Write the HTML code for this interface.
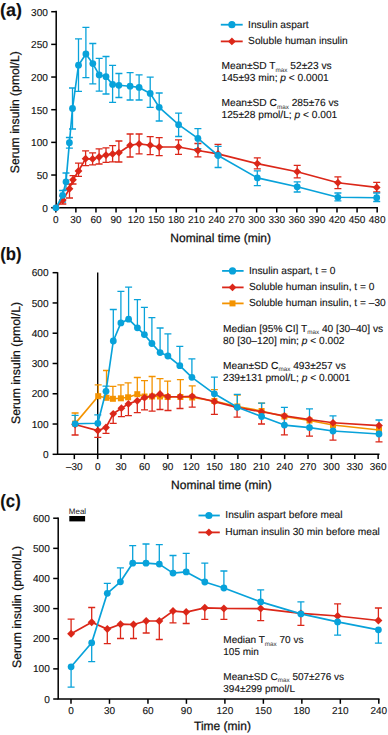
<!DOCTYPE html>
<html><head><meta charset="utf-8"><style>
html,body{margin:0;padding:0;background:#fff;}
body{width:388px;height:735px;overflow:hidden;}
svg{display:block;font-family:"Liberation Sans", sans-serif;}
text.big{stroke-width:0.25px !important;}
text{fill:#111;stroke:#111;stroke-width:0.12px;text-rendering:geometricPrecision;}
</style></head><body>
<svg width="388" height="735" viewBox="0 0 388 735">
<text x="0" y="16.3" font-size="18" text-anchor="start" font-weight="bold" >(a)</text>
<text transform="translate(18.5 112.2) rotate(-90)" class="big" font-size="12.2" text-anchor="middle">Serum insulin (pmol/L)</text>
<path d="M56.2 11.6V207.7H377.2" stroke="#000" stroke-width="1.5" fill="none" stroke-linecap="square"/>
<path d="M51.2 207.7H56.2" stroke="#000" stroke-width="1.5"/>
<text x="47.9" y="211.8" font-size="10.1" text-anchor="end" font-weight="normal" >0</text>
<path d="M51.2 175.035H56.2" stroke="#000" stroke-width="1.5"/>
<text x="47.9" y="179.135" font-size="10.1" text-anchor="end" font-weight="normal" >50</text>
<path d="M51.2 142.37H56.2" stroke="#000" stroke-width="1.5"/>
<text x="47.9" y="146.47" font-size="10.1" text-anchor="end" font-weight="normal" >100</text>
<path d="M51.2 109.7H56.2" stroke="#000" stroke-width="1.5"/>
<text x="47.9" y="113.8" font-size="10.1" text-anchor="end" font-weight="normal" >150</text>
<path d="M51.2 77.04H56.2" stroke="#000" stroke-width="1.5"/>
<text x="47.9" y="81.14" font-size="10.1" text-anchor="end" font-weight="normal" >200</text>
<path d="M51.2 44.375H56.2" stroke="#000" stroke-width="1.5"/>
<text x="47.9" y="48.475" font-size="10.1" text-anchor="end" font-weight="normal" >250</text>
<path d="M51.2 11.71H56.2" stroke="#000" stroke-width="1.5"/>
<text x="47.9" y="15.81" font-size="10.1" text-anchor="end" font-weight="normal" >300</text>
<path d="M55.8 207.7V212.5" stroke="#000" stroke-width="1.5"/>
<text x="55.8" y="223.2" font-size="10" text-anchor="middle" font-weight="normal" >0</text>
<path d="M75.88 207.7V212.5" stroke="#000" stroke-width="1.5"/>
<text x="75.88" y="223.2" font-size="10" text-anchor="middle" font-weight="normal" >30</text>
<path d="M95.97 207.7V212.5" stroke="#000" stroke-width="1.5"/>
<text x="95.97" y="223.2" font-size="10" text-anchor="middle" font-weight="normal" >60</text>
<path d="M116.05 207.7V212.5" stroke="#000" stroke-width="1.5"/>
<text x="116.05" y="223.2" font-size="10" text-anchor="middle" font-weight="normal" >90</text>
<path d="M136.14 207.7V212.5" stroke="#000" stroke-width="1.5"/>
<text x="136.14" y="223.2" font-size="10" text-anchor="middle" font-weight="normal" >120</text>
<path d="M156.225 207.7V212.5" stroke="#000" stroke-width="1.5"/>
<text x="156.225" y="223.2" font-size="10" text-anchor="middle" font-weight="normal" >150</text>
<path d="M176.31 207.7V212.5" stroke="#000" stroke-width="1.5"/>
<text x="176.31" y="223.2" font-size="10" text-anchor="middle" font-weight="normal" >180</text>
<path d="M196.39 207.7V212.5" stroke="#000" stroke-width="1.5"/>
<text x="196.39" y="223.2" font-size="10" text-anchor="middle" font-weight="normal" >210</text>
<path d="M216.48 207.7V212.5" stroke="#000" stroke-width="1.5"/>
<text x="216.48" y="223.2" font-size="10" text-anchor="middle" font-weight="normal" >240</text>
<path d="M236.565 207.7V212.5" stroke="#000" stroke-width="1.5"/>
<text x="236.565" y="223.2" font-size="10" text-anchor="middle" font-weight="normal" >270</text>
<path d="M256.65 207.7V212.5" stroke="#000" stroke-width="1.5"/>
<text x="256.65" y="223.2" font-size="10" text-anchor="middle" font-weight="normal" >300</text>
<path d="M276.735 207.7V212.5" stroke="#000" stroke-width="1.5"/>
<text x="276.735" y="223.2" font-size="10" text-anchor="middle" font-weight="normal" >330</text>
<path d="M296.82 207.7V212.5" stroke="#000" stroke-width="1.5"/>
<text x="296.82" y="223.2" font-size="10" text-anchor="middle" font-weight="normal" >360</text>
<path d="M316.91 207.7V212.5" stroke="#000" stroke-width="1.5"/>
<text x="316.91" y="223.2" font-size="10" text-anchor="middle" font-weight="normal" >390</text>
<path d="M336.99 207.7V212.5" stroke="#000" stroke-width="1.5"/>
<text x="336.99" y="223.2" font-size="10" text-anchor="middle" font-weight="normal" >420</text>
<path d="M357.075 207.7V212.5" stroke="#000" stroke-width="1.5"/>
<text x="357.075" y="223.2" font-size="10" text-anchor="middle" font-weight="normal" >450</text>
<path d="M377.16 207.7V212.5" stroke="#000" stroke-width="1.5"/>
<text x="377.16" y="223.2" font-size="10" text-anchor="middle" font-weight="normal" >480</text>
<text x="170.3" y="242.2" font-size="12" text-anchor="start" font-weight="normal" class="big">Nominal time (min)</text>
<path d="M62.8 196V204M59.3 196H66.3M59.3 204H66.3" stroke="#db2719" stroke-width="1.3" fill="none"/>
<path d="M69.5 184.1V198M66.0 184.1H73.0M66.0 198H73.0" stroke="#db2719" stroke-width="1.3" fill="none"/>
<path d="M73 175.6V184M69.5 175.6H76.5M69.5 184H76.5" stroke="#db2719" stroke-width="1.3" fill="none"/>
<path d="M78.5 163.2V176.4M75.0 163.2H82.0M75.0 176.4H82.0" stroke="#db2719" stroke-width="1.3" fill="none"/>
<path d="M85.6 150.9V165.6M82.1 150.9H89.1M82.1 165.6H89.1" stroke="#db2719" stroke-width="1.3" fill="none"/>
<path d="M92.6 152.9V164.8M89.1 152.9H96.1M89.1 164.8H96.1" stroke="#db2719" stroke-width="1.3" fill="none"/>
<path d="M99.1 148.9V164M95.6 148.9H102.6M95.6 164H102.6" stroke="#db2719" stroke-width="1.3" fill="none"/>
<path d="M106 147.8V162.3M102.5 147.8H109.5M102.5 162.3H109.5" stroke="#db2719" stroke-width="1.3" fill="none"/>
<path d="M112.6 145.6V161.8M109.1 145.6H116.1M109.1 161.8H116.1" stroke="#db2719" stroke-width="1.3" fill="none"/>
<path d="M118.9 141V162M115.4 141H122.4M115.4 162H122.4" stroke="#db2719" stroke-width="1.3" fill="none"/>
<path d="M130.1 134V157M126.6 134H133.6M126.6 157H133.6" stroke="#db2719" stroke-width="1.3" fill="none"/>
<path d="M139.1 134V153.8M135.6 134H142.6M135.6 153.8H142.6" stroke="#db2719" stroke-width="1.3" fill="none"/>
<path d="M150.2 136.7V154.7M146.7 136.7H153.7M146.7 154.7H153.7" stroke="#db2719" stroke-width="1.3" fill="none"/>
<path d="M159.2 137.6V155.6M155.7 137.6H162.7M155.7 155.6H162.7" stroke="#db2719" stroke-width="1.3" fill="none"/>
<path d="M178.5 139.8V154.3M175.0 139.8H182.0M175.0 154.3H182.0" stroke="#db2719" stroke-width="1.3" fill="none"/>
<path d="M197.9 143.5V156.9M194.4 143.5H201.4M194.4 156.9H201.4" stroke="#db2719" stroke-width="1.3" fill="none"/>
<path d="M218.0 144.3V156M214.5 144.3H221.5M214.5 156H221.5" stroke="#db2719" stroke-width="1.3" fill="none"/>
<path d="M257.3 157.8V168.8M253.8 157.8H260.8M253.8 168.8H260.8" stroke="#db2719" stroke-width="1.3" fill="none"/>
<path d="M297.2 165.4V177.8M293.7 165.4H300.7M293.7 177.8H300.7" stroke="#db2719" stroke-width="1.3" fill="none"/>
<path d="M337.9 176.9V188.7M334.4 176.9H341.4M334.4 188.7H341.4" stroke="#db2719" stroke-width="1.3" fill="none"/>
<path d="M376.7 182.4V192M373.2 182.4H380.2M373.2 192H380.2" stroke="#db2719" stroke-width="1.3" fill="none"/>
<path d="M62.6 190.5V202M59.1 190.5H66.1M59.1 202H66.1" stroke="#08a2da" stroke-width="1.3" fill="none"/>
<path d="M66 173V190M62.5 173H69.5M62.5 190H69.5" stroke="#08a2da" stroke-width="1.3" fill="none"/>
<path d="M69.4 137.5V148.1M65.9 137.5H72.9M65.9 148.1H72.9" stroke="#08a2da" stroke-width="1.3" fill="none"/>
<path d="M72.5 88V129M69.0 88H76.0M69.0 129H76.0" stroke="#08a2da" stroke-width="1.3" fill="none"/>
<path d="M78.5 38.9V91.4M75.0 38.9H82.0M75.0 91.4H82.0" stroke="#08a2da" stroke-width="1.3" fill="none"/>
<path d="M85.9 27.4V77.7M82.4 27.4H89.4M82.4 77.7H89.4" stroke="#08a2da" stroke-width="1.3" fill="none"/>
<path d="M92.8 43.5V83.9M89.3 43.5H96.3M89.3 83.9H96.3" stroke="#08a2da" stroke-width="1.3" fill="none"/>
<path d="M99.2 58.3V91.1M95.7 58.3H102.7M95.7 91.1H102.7" stroke="#08a2da" stroke-width="1.3" fill="none"/>
<path d="M106 56.5V94M102.5 56.5H109.5M102.5 94H109.5" stroke="#08a2da" stroke-width="1.3" fill="none"/>
<path d="M112.6 65.4V102.4M109.1 65.4H116.1M109.1 102.4H116.1" stroke="#08a2da" stroke-width="1.3" fill="none"/>
<path d="M118.9 73.5V97.5M115.4 73.5H122.4M115.4 97.5H122.4" stroke="#08a2da" stroke-width="1.3" fill="none"/>
<path d="M130.1 72.6V100M126.6 72.6H133.6M126.6 100H133.6" stroke="#08a2da" stroke-width="1.3" fill="none"/>
<path d="M139.1 74.8V100M135.6 74.8H142.6M135.6 100H142.6" stroke="#08a2da" stroke-width="1.3" fill="none"/>
<path d="M150.2 77.1V107.3M146.7 77.1H153.7M146.7 107.3H153.7" stroke="#08a2da" stroke-width="1.3" fill="none"/>
<path d="M159.2 93V121M155.7 93H162.7M155.7 121H162.7" stroke="#08a2da" stroke-width="1.3" fill="none"/>
<path d="M178.6 113.1V136.5M175.1 113.1H182.1M175.1 136.5H182.1" stroke="#08a2da" stroke-width="1.3" fill="none"/>
<path d="M197.9 128.6V148.7M194.4 128.6H201.4M194.4 148.7H201.4" stroke="#08a2da" stroke-width="1.3" fill="none"/>
<path d="M218.1 146.3V167.5M214.6 146.3H221.6M214.6 167.5H221.6" stroke="#08a2da" stroke-width="1.3" fill="none"/>
<path d="M257.3 170.8V185.7M253.8 170.8H260.8M253.8 185.7H260.8" stroke="#08a2da" stroke-width="1.3" fill="none"/>
<path d="M297.2 181.8V192M293.7 181.8H300.7M293.7 192H300.7" stroke="#08a2da" stroke-width="1.3" fill="none"/>
<path d="M337.9 193V200.8M334.4 193H341.4M334.4 200.8H341.4" stroke="#08a2da" stroke-width="1.3" fill="none"/>
<path d="M376.7 193V201.5M373.2 193H380.2M373.2 201.5H380.2" stroke="#08a2da" stroke-width="1.3" fill="none"/>
<polyline points="56,207.8 62.8,200 69.5,188.8 73,179.8 78.5,171 85.6,158.7 92.6,158.9 99.1,157 106,155.1 112.6,153.9 118.9,152.7 130.1,145.3 139.1,143.9 150.2,145.2 159.2,147 178.5,147 197.9,150.5 218.0,153.9 257.3,163.6 297.2,171.7 337.9,182.7 376.7,187.4" stroke="#db2719" stroke-width="1.65" fill="none" stroke-linejoin="round"/>
<path d="M56 203.9L59.9 207.8L56 211.7L52.1 207.8Z" fill="#db2719"/>
<path d="M62.8 196.1L66.7 200L62.8 203.9L58.9 200Z" fill="#db2719"/>
<path d="M69.5 184.9L73.4 188.8L69.5 192.7L65.6 188.8Z" fill="#db2719"/>
<path d="M73 175.9L76.9 179.8L73 183.7L69.1 179.8Z" fill="#db2719"/>
<path d="M78.5 167.1L82.4 171L78.5 174.9L74.6 171Z" fill="#db2719"/>
<path d="M85.6 154.8L89.5 158.7L85.6 162.6L81.7 158.7Z" fill="#db2719"/>
<path d="M92.6 155.0L96.5 158.9L92.6 162.8L88.7 158.9Z" fill="#db2719"/>
<path d="M99.1 153.1L103.0 157L99.1 160.9L95.2 157Z" fill="#db2719"/>
<path d="M106 151.2L109.9 155.1L106 159.0L102.1 155.1Z" fill="#db2719"/>
<path d="M112.6 150.0L116.5 153.9L112.6 157.8L108.7 153.9Z" fill="#db2719"/>
<path d="M118.9 148.8L122.8 152.7L118.9 156.6L115.0 152.7Z" fill="#db2719"/>
<path d="M130.1 141.4L134.0 145.3L130.1 149.2L126.2 145.3Z" fill="#db2719"/>
<path d="M139.1 140.0L143.0 143.9L139.1 147.8L135.2 143.9Z" fill="#db2719"/>
<path d="M150.2 141.3L154.1 145.2L150.2 149.1L146.3 145.2Z" fill="#db2719"/>
<path d="M159.2 143.1L163.1 147L159.2 150.9L155.3 147Z" fill="#db2719"/>
<path d="M178.5 143.1L182.4 147L178.5 150.9L174.6 147Z" fill="#db2719"/>
<path d="M197.9 146.6L201.8 150.5L197.9 154.4L194.0 150.5Z" fill="#db2719"/>
<path d="M218.0 150.0L221.9 153.9L218.0 157.8L214.1 153.9Z" fill="#db2719"/>
<path d="M257.3 159.7L261.2 163.6L257.3 167.5L253.4 163.6Z" fill="#db2719"/>
<path d="M297.2 167.8L301.1 171.7L297.2 175.6L293.3 171.7Z" fill="#db2719"/>
<path d="M337.9 178.8L341.8 182.7L337.9 186.6L334.0 182.7Z" fill="#db2719"/>
<path d="M376.7 183.5L380.6 187.4L376.7 191.3L372.8 187.4Z" fill="#db2719"/>
<polyline points="55.9,207.8 62.6,195.3 66,181.8 69.4,142.7 72.5,108.5 78.5,65.2 85.9,54 92.8,63.6 99.2,74.9 106,76.7 112.6,84.4 118.9,85.3 130.1,86.2 139.1,87.4 150.2,93.4 159.2,107.3 178.6,124.7 197.9,138.4 218.1,155.5 257.3,177.9 297.2,186.8 337.9,197.3 376.7,197.7" stroke="#08a2da" stroke-width="1.65" fill="none" stroke-linejoin="round"/>
<circle cx="55.9" cy="207.8" r="3.4" fill="#08a2da"/>
<circle cx="62.6" cy="195.3" r="3.4" fill="#08a2da"/>
<circle cx="66" cy="181.8" r="3.4" fill="#08a2da"/>
<circle cx="69.4" cy="142.7" r="3.4" fill="#08a2da"/>
<circle cx="72.5" cy="108.5" r="3.4" fill="#08a2da"/>
<circle cx="78.5" cy="65.2" r="3.4" fill="#08a2da"/>
<circle cx="85.9" cy="54" r="3.4" fill="#08a2da"/>
<circle cx="92.8" cy="63.6" r="3.4" fill="#08a2da"/>
<circle cx="99.2" cy="74.9" r="3.4" fill="#08a2da"/>
<circle cx="106" cy="76.7" r="3.4" fill="#08a2da"/>
<circle cx="112.6" cy="84.4" r="3.4" fill="#08a2da"/>
<circle cx="118.9" cy="85.3" r="3.4" fill="#08a2da"/>
<circle cx="130.1" cy="86.2" r="3.4" fill="#08a2da"/>
<circle cx="139.1" cy="87.4" r="3.4" fill="#08a2da"/>
<circle cx="150.2" cy="93.4" r="3.4" fill="#08a2da"/>
<circle cx="159.2" cy="107.3" r="3.4" fill="#08a2da"/>
<circle cx="178.6" cy="124.7" r="3.4" fill="#08a2da"/>
<circle cx="197.9" cy="138.4" r="3.4" fill="#08a2da"/>
<circle cx="218.1" cy="155.5" r="3.4" fill="#08a2da"/>
<circle cx="257.3" cy="177.9" r="3.4" fill="#08a2da"/>
<circle cx="297.2" cy="186.8" r="3.4" fill="#08a2da"/>
<circle cx="337.9" cy="197.3" r="3.4" fill="#08a2da"/>
<circle cx="376.7" cy="197.7" r="3.4" fill="#08a2da"/>
<path d="M220.8 24.7H242.7" stroke="#08a2da" stroke-width="1.8"/>
<circle cx="231.9" cy="24.7" r="3.6" fill="#08a2da"/>
<text x="248.1" y="27.6" font-size="10.2" text-anchor="start" font-weight="normal" >Insulin aspart</text>
<path d="M220.8 41.4H242.7" stroke="#db2719" stroke-width="1.8"/>
<path d="M231.9 37.5L235.8 41.4L231.9 45.3L228.0 41.4Z" fill="#db2719"/>
<text x="248.1" y="44.3" font-size="10.2" text-anchor="start" font-weight="normal" >Soluble human insulin</text>
<text x="221.5" y="69.0" font-size="10.2" text-anchor="start" font-weight="normal" >Mean±SD T<tspan font-size="6.3" dy="2.6" style="stroke:none;fill:#333">max</tspan><tspan dy="-2.6"> </tspan>52±23 vs</text>
<text x="221.5" y="81.1" font-size="10.2" text-anchor="start" font-weight="normal" >145±93 min; <tspan font-style='italic'>p</tspan> &lt; 0.0001</text>
<text x="221.5" y="106.4" font-size="10.2" text-anchor="start" font-weight="normal" >Mean±SD C<tspan font-size="6.3" dy="2.6" style="stroke:none;fill:#333">max</tspan><tspan dy="-2.6"> </tspan>285±76 vs</text>
<text x="221.5" y="118.4" font-size="10.2" text-anchor="start" font-weight="normal" >125±28 pmol/L; <tspan font-style='italic'>p</tspan> &lt; 0.001</text>
<text transform="translate(0.3 259.6) scale(0.93 1)" font-size="18" font-weight="bold">(b)</text>
<text transform="translate(20.4 363) rotate(-90)" class="big" font-size="12.2" text-anchor="middle">Serum insulin (pmol/L)</text>
<path d="M57.6 272.9V454.3H378.8" stroke="#000" stroke-width="1.5" fill="none" stroke-linecap="square"/>
<path d="M52.6 454.3H57.6" stroke="#000" stroke-width="1.5"/>
<text x="48.6" y="457.9" font-size="10.1" text-anchor="end" font-weight="normal" >0</text>
<path d="M52.6 424.03H57.6" stroke="#000" stroke-width="1.5"/>
<text x="48.6" y="427.63" font-size="10.1" text-anchor="end" font-weight="normal" >100</text>
<path d="M52.6 393.76H57.6" stroke="#000" stroke-width="1.5"/>
<text x="48.6" y="397.36" font-size="10.1" text-anchor="end" font-weight="normal" >200</text>
<path d="M52.6 363.49H57.6" stroke="#000" stroke-width="1.5"/>
<text x="48.6" y="367.09" font-size="10.1" text-anchor="end" font-weight="normal" >300</text>
<path d="M52.6 333.22H57.6" stroke="#000" stroke-width="1.5"/>
<text x="48.6" y="336.82" font-size="10.1" text-anchor="end" font-weight="normal" >400</text>
<path d="M52.6 302.95H57.6" stroke="#000" stroke-width="1.5"/>
<text x="48.6" y="306.55" font-size="10.1" text-anchor="end" font-weight="normal" >500</text>
<path d="M52.6 272.68H57.6" stroke="#000" stroke-width="1.5"/>
<text x="48.6" y="276.28" font-size="10.1" text-anchor="end" font-weight="normal" >600</text>
<path d="M74.33 454.3V459.1" stroke="#000" stroke-width="1.5"/>
<text x="74.33" y="470.1" font-size="10" text-anchor="middle" font-weight="normal" >–30</text>
<path d="M97.7 454.3V459.1" stroke="#000" stroke-width="1.5"/>
<text x="97.7" y="470.1" font-size="10" text-anchor="middle" font-weight="normal" >0</text>
<path d="M121.07 454.3V459.1" stroke="#000" stroke-width="1.5"/>
<text x="121.07" y="470.1" font-size="10" text-anchor="middle" font-weight="normal" >30</text>
<path d="M144.44 454.3V459.1" stroke="#000" stroke-width="1.5"/>
<text x="144.44" y="470.1" font-size="10" text-anchor="middle" font-weight="normal" >60</text>
<path d="M167.81 454.3V459.1" stroke="#000" stroke-width="1.5"/>
<text x="167.81" y="470.1" font-size="10" text-anchor="middle" font-weight="normal" >90</text>
<path d="M191.18 454.3V459.1" stroke="#000" stroke-width="1.5"/>
<text x="191.18" y="470.1" font-size="10" text-anchor="middle" font-weight="normal" >120</text>
<path d="M214.55 454.3V459.1" stroke="#000" stroke-width="1.5"/>
<text x="214.55" y="470.1" font-size="10" text-anchor="middle" font-weight="normal" >150</text>
<path d="M237.92 454.3V459.1" stroke="#000" stroke-width="1.5"/>
<text x="237.92" y="470.1" font-size="10" text-anchor="middle" font-weight="normal" >180</text>
<path d="M261.29 454.3V459.1" stroke="#000" stroke-width="1.5"/>
<text x="261.29" y="470.1" font-size="10" text-anchor="middle" font-weight="normal" >210</text>
<path d="M284.66 454.3V459.1" stroke="#000" stroke-width="1.5"/>
<text x="284.66" y="470.1" font-size="10" text-anchor="middle" font-weight="normal" >240</text>
<path d="M308.03 454.3V459.1" stroke="#000" stroke-width="1.5"/>
<text x="308.03" y="470.1" font-size="10" text-anchor="middle" font-weight="normal" >270</text>
<path d="M331.4 454.3V459.1" stroke="#000" stroke-width="1.5"/>
<text x="331.4" y="470.1" font-size="10" text-anchor="middle" font-weight="normal" >300</text>
<path d="M354.77 454.3V459.1" stroke="#000" stroke-width="1.5"/>
<text x="354.77" y="470.1" font-size="10" text-anchor="middle" font-weight="normal" >330</text>
<path d="M378.14 454.3V459.1" stroke="#000" stroke-width="1.5"/>
<text x="378.14" y="470.1" font-size="10" text-anchor="middle" font-weight="normal" >360</text>
<path d="M97.7 272.5V454.3" stroke="#000" stroke-width="1.4"/>
<text x="171.1" y="488.7" font-size="12" text-anchor="start" font-weight="normal" class="big">Nominal time (min)</text>
<path d="M75.1 423.6V413M71.6 413H78.6" stroke="#f49300" stroke-width="1.3" fill="none"/>
<path d="M98.2 396.2V384.9M94.7 384.9H101.7" stroke="#f49300" stroke-width="1.3" fill="none"/>
<path d="M106.5 397.8V370.5M103.0 370.5H110.0" stroke="#f49300" stroke-width="1.3" fill="none"/>
<path d="M112.9 398.8V386.4M109.4 386.4H116.4" stroke="#f49300" stroke-width="1.3" fill="none"/>
<path d="M120.9 398.3V384.9M117.4 384.9H124.4" stroke="#f49300" stroke-width="1.3" fill="none"/>
<path d="M128.1 397.3V382.8M124.6 382.8H131.6" stroke="#f49300" stroke-width="1.3" fill="none"/>
<path d="M137.3 394.2V377.5M133.8 377.5H140.8" stroke="#f49300" stroke-width="1.3" fill="none"/>
<path d="M144.5 396.5V380.6M141.0 380.6H148.0" stroke="#f49300" stroke-width="1.3" fill="none"/>
<path d="M152.1 396.5V376.5M148.6 376.5H155.6" stroke="#f49300" stroke-width="1.3" fill="none"/>
<path d="M160 396.5V378.6M156.5 378.6H163.5" stroke="#f49300" stroke-width="1.3" fill="none"/>
<path d="M167.6 397V381.2M164.1 381.2H171.1" stroke="#f49300" stroke-width="1.3" fill="none"/>
<path d="M180.4 397V379.6M176.9 379.6H183.9" stroke="#f49300" stroke-width="1.3" fill="none"/>
<path d="M192.2 397.5V385.8M188.7 385.8H195.7" stroke="#f49300" stroke-width="1.3" fill="none"/>
<path d="M214.4 401V389.7M210.9 389.7H217.9" stroke="#f49300" stroke-width="1.3" fill="none"/>
<path d="M237.3 406.5V395.1M233.8 395.1H240.8" stroke="#f49300" stroke-width="1.3" fill="none"/>
<path d="M261.6 411V403.2M258.1 403.2H265.1" stroke="#f49300" stroke-width="1.3" fill="none"/>
<path d="M75.1 424.5V435M71.6 435H78.6" stroke="#db2719" stroke-width="1.3" fill="none"/>
<path d="M97.8 430.6V437.3M94.3 437.3H101.3" stroke="#db2719" stroke-width="1.3" fill="none"/>
<path d="M106 427.5V433.4M102.5 433.4H109.5" stroke="#db2719" stroke-width="1.3" fill="none"/>
<path d="M113.2 413.8V423.3M109.7 423.3H116.7" stroke="#db2719" stroke-width="1.3" fill="none"/>
<path d="M121.4 408.2V416.6M117.9 416.6H124.9" stroke="#db2719" stroke-width="1.3" fill="none"/>
<path d="M128.4 403.9V415.7M124.9 415.7H131.9" stroke="#db2719" stroke-width="1.3" fill="none"/>
<path d="M137.3 400.8V412.6M133.8 412.6H140.8" stroke="#db2719" stroke-width="1.3" fill="none"/>
<path d="M144.5 397.7V409.9M141.0 409.9H148.0" stroke="#db2719" stroke-width="1.3" fill="none"/>
<path d="M152.1 396.1V411.1M148.6 411.1H155.6" stroke="#db2719" stroke-width="1.3" fill="none"/>
<path d="M160 394V409.5M156.5 409.5H163.5" stroke="#db2719" stroke-width="1.3" fill="none"/>
<path d="M168 396.7V410.5M164.5 410.5H171.5" stroke="#db2719" stroke-width="1.3" fill="none"/>
<path d="M180 396.7V408.5M176.5 408.5H183.5" stroke="#db2719" stroke-width="1.3" fill="none"/>
<path d="M192.2 396.3V407.2M188.7 407.2H195.7" stroke="#db2719" stroke-width="1.3" fill="none"/>
<path d="M214.4 401.6V414.3M210.9 414.3H217.9" stroke="#db2719" stroke-width="1.3" fill="none"/>
<path d="M237.1 407.4V417.1M233.6 417.1H240.6" stroke="#db2719" stroke-width="1.3" fill="none"/>
<path d="M261.5 411.8V424M258.0 424H265.0" stroke="#db2719" stroke-width="1.3" fill="none"/>
<path d="M284.4 415.9V434.8M280.9 434.8H287.9" stroke="#db2719" stroke-width="1.3" fill="none"/>
<path d="M309.5 419.5V436.2M306.0 436.2H313.0" stroke="#db2719" stroke-width="1.3" fill="none"/>
<path d="M333 422.8V440.1M329.5 440.1H336.5" stroke="#db2719" stroke-width="1.3" fill="none"/>
<path d="M379 425.6V441.8M375.5 441.8H382.5" stroke="#db2719" stroke-width="1.3" fill="none"/>
<path d="M75.1 423.8V415.3M71.6 415.3H78.6" stroke="#08a2da" stroke-width="1.3" fill="none"/>
<path d="M97.8 423.3V414.8M94.3 414.8H101.3" stroke="#08a2da" stroke-width="1.3" fill="none"/>
<path d="M106 391.3V386.2M102.5 386.2H109.5" stroke="#08a2da" stroke-width="1.3" fill="none"/>
<path d="M113.3 341V309.5M109.8 309.5H116.8" stroke="#08a2da" stroke-width="1.3" fill="none"/>
<path d="M120.9 322.9V291.3M117.4 291.3H124.4" stroke="#08a2da" stroke-width="1.3" fill="none"/>
<path d="M128.6 319.2V287.2M125.1 287.2H132.1" stroke="#08a2da" stroke-width="1.3" fill="none"/>
<path d="M137.4 327.8V299.6M133.9 299.6H140.9" stroke="#08a2da" stroke-width="1.3" fill="none"/>
<path d="M144.4 334.6V307.4M140.9 307.4H147.9" stroke="#08a2da" stroke-width="1.3" fill="none"/>
<path d="M151.9 343.5V317.7M148.4 317.7H155.4" stroke="#08a2da" stroke-width="1.3" fill="none"/>
<path d="M160.1 352.6V328M156.6 328H163.6" stroke="#08a2da" stroke-width="1.3" fill="none"/>
<path d="M167.9 356V333.8M164.4 333.8H171.4" stroke="#08a2da" stroke-width="1.3" fill="none"/>
<path d="M179.8 365.7V346.4M176.3 346.4H183.3" stroke="#08a2da" stroke-width="1.3" fill="none"/>
<path d="M191.9 377.3V358.8M188.4 358.8H195.4" stroke="#08a2da" stroke-width="1.3" fill="none"/>
<path d="M214.4 393.8V377.2M210.9 377.2H217.9" stroke="#08a2da" stroke-width="1.3" fill="none"/>
<path d="M237.3 407.3V394.4M233.8 394.4H240.8" stroke="#08a2da" stroke-width="1.3" fill="none"/>
<path d="M261.6 416.5V403.2M258.1 403.2H265.1" stroke="#08a2da" stroke-width="1.3" fill="none"/>
<path d="M284.4 425.1V407.4M280.9 407.4H287.9" stroke="#08a2da" stroke-width="1.3" fill="none"/>
<path d="M309.5 427.6V408.9M306.0 408.9H313.0" stroke="#08a2da" stroke-width="1.3" fill="none"/>
<path d="M333 431V415.9M329.5 415.9H336.5" stroke="#08a2da" stroke-width="1.3" fill="none"/>
<path d="M379 434V420M375.5 420H382.5" stroke="#08a2da" stroke-width="1.3" fill="none"/>
<polyline points="75.1,423.6 98.2,396.2 106.5,397.8 112.9,398.8 120.9,398.3 128.1,397.3 137.3,394.2 144.5,396.5 152.1,396.5 160,396.5 167.6,397 180.4,397 192.2,397.5 214.4,401 237.3,406.5 261.6,411 284.4,416.5 309.5,420.5 333,425 379,430" stroke="#f49300" stroke-width="1.65" fill="none" stroke-linejoin="round"/>
<rect x="72.1" y="420.6" width="6.0" height="6.0" fill="#f49300"/>
<rect x="95.2" y="393.2" width="6.0" height="6.0" fill="#f49300"/>
<rect x="103.5" y="394.8" width="6.0" height="6.0" fill="#f49300"/>
<rect x="109.9" y="395.8" width="6.0" height="6.0" fill="#f49300"/>
<rect x="117.9" y="395.3" width="6.0" height="6.0" fill="#f49300"/>
<rect x="125.1" y="394.3" width="6.0" height="6.0" fill="#f49300"/>
<rect x="134.3" y="391.2" width="6.0" height="6.0" fill="#f49300"/>
<rect x="141.5" y="393.5" width="6.0" height="6.0" fill="#f49300"/>
<rect x="149.1" y="393.5" width="6.0" height="6.0" fill="#f49300"/>
<rect x="157.0" y="393.5" width="6.0" height="6.0" fill="#f49300"/>
<rect x="164.6" y="394.0" width="6.0" height="6.0" fill="#f49300"/>
<rect x="177.4" y="394.0" width="6.0" height="6.0" fill="#f49300"/>
<rect x="189.2" y="394.5" width="6.0" height="6.0" fill="#f49300"/>
<rect x="211.4" y="398.0" width="6.0" height="6.0" fill="#f49300"/>
<rect x="234.3" y="403.5" width="6.0" height="6.0" fill="#f49300"/>
<rect x="258.6" y="408.0" width="6.0" height="6.0" fill="#f49300"/>
<rect x="281.4" y="413.5" width="6.0" height="6.0" fill="#f49300"/>
<rect x="306.5" y="417.5" width="6.0" height="6.0" fill="#f49300"/>
<rect x="330.0" y="422.0" width="6.0" height="6.0" fill="#f49300"/>
<rect x="376.0" y="427.0" width="6.0" height="6.0" fill="#f49300"/>
<polyline points="75.1,424.5 97.8,430.6 106,427.5 113.2,413.8 121.4,408.2 128.4,403.9 137.3,400.8 144.5,397.7 152.1,396.1 160,394 168,396.7 180,396.7 192.2,396.3 214.4,401.6 237.1,407.4 261.5,411.8 284.4,415.9 309.5,419.5 333,422.8 379,425.6" stroke="#db2719" stroke-width="1.65" fill="none" stroke-linejoin="round"/>
<path d="M75.1 420.6L79.0 424.5L75.1 428.4L71.2 424.5Z" fill="#db2719"/>
<path d="M97.8 426.7L101.7 430.6L97.8 434.5L93.9 430.6Z" fill="#db2719"/>
<path d="M106 423.6L109.9 427.5L106 431.4L102.1 427.5Z" fill="#db2719"/>
<path d="M113.2 409.9L117.1 413.8L113.2 417.7L109.3 413.8Z" fill="#db2719"/>
<path d="M121.4 404.3L125.3 408.2L121.4 412.1L117.5 408.2Z" fill="#db2719"/>
<path d="M128.4 400.0L132.3 403.9L128.4 407.8L124.5 403.9Z" fill="#db2719"/>
<path d="M137.3 396.9L141.2 400.8L137.3 404.7L133.4 400.8Z" fill="#db2719"/>
<path d="M144.5 393.8L148.4 397.7L144.5 401.6L140.6 397.7Z" fill="#db2719"/>
<path d="M152.1 392.2L156.0 396.1L152.1 400.0L148.2 396.1Z" fill="#db2719"/>
<path d="M160 390.1L163.9 394L160 397.9L156.1 394Z" fill="#db2719"/>
<path d="M168 392.8L171.9 396.7L168 400.6L164.1 396.7Z" fill="#db2719"/>
<path d="M180 392.8L183.9 396.7L180 400.6L176.1 396.7Z" fill="#db2719"/>
<path d="M192.2 392.4L196.1 396.3L192.2 400.2L188.3 396.3Z" fill="#db2719"/>
<path d="M214.4 397.7L218.3 401.6L214.4 405.5L210.5 401.6Z" fill="#db2719"/>
<path d="M237.1 403.5L241.0 407.4L237.1 411.3L233.2 407.4Z" fill="#db2719"/>
<path d="M261.5 407.9L265.4 411.8L261.5 415.7L257.6 411.8Z" fill="#db2719"/>
<path d="M284.4 412.0L288.3 415.9L284.4 419.8L280.5 415.9Z" fill="#db2719"/>
<path d="M309.5 415.6L313.4 419.5L309.5 423.4L305.6 419.5Z" fill="#db2719"/>
<path d="M333 418.9L336.9 422.8L333 426.7L329.1 422.8Z" fill="#db2719"/>
<path d="M379 421.7L382.9 425.6L379 429.5L375.1 425.6Z" fill="#db2719"/>
<polyline points="75.1,423.8 97.8,423.3 106,391.3 113.3,341 120.9,322.9 128.6,319.2 137.4,327.8 144.4,334.6 151.9,343.5 160.1,352.6 167.9,356 179.8,365.7 191.9,377.3 214.4,393.8 237.3,407.3 261.6,416.5 284.4,425.1 309.5,427.6 333,431 379,434" stroke="#08a2da" stroke-width="1.65" fill="none" stroke-linejoin="round"/>
<circle cx="75.1" cy="423.8" r="3.4" fill="#08a2da"/>
<circle cx="97.8" cy="423.3" r="3.4" fill="#08a2da"/>
<circle cx="106" cy="391.3" r="3.4" fill="#08a2da"/>
<circle cx="113.3" cy="341" r="3.4" fill="#08a2da"/>
<circle cx="120.9" cy="322.9" r="3.4" fill="#08a2da"/>
<circle cx="128.6" cy="319.2" r="3.4" fill="#08a2da"/>
<circle cx="137.4" cy="327.8" r="3.4" fill="#08a2da"/>
<circle cx="144.4" cy="334.6" r="3.4" fill="#08a2da"/>
<circle cx="151.9" cy="343.5" r="3.4" fill="#08a2da"/>
<circle cx="160.1" cy="352.6" r="3.4" fill="#08a2da"/>
<circle cx="167.9" cy="356" r="3.4" fill="#08a2da"/>
<circle cx="179.8" cy="365.7" r="3.4" fill="#08a2da"/>
<circle cx="191.9" cy="377.3" r="3.4" fill="#08a2da"/>
<circle cx="214.4" cy="393.8" r="3.4" fill="#08a2da"/>
<circle cx="237.3" cy="407.3" r="3.4" fill="#08a2da"/>
<circle cx="261.6" cy="416.5" r="3.4" fill="#08a2da"/>
<circle cx="284.4" cy="425.1" r="3.4" fill="#08a2da"/>
<circle cx="309.5" cy="427.6" r="3.4" fill="#08a2da"/>
<circle cx="333" cy="431" r="3.4" fill="#08a2da"/>
<circle cx="379" cy="434" r="3.4" fill="#08a2da"/>
<path d="M222.1 270.9H243.6" stroke="#08a2da" stroke-width="1.8"/>
<circle cx="232.5" cy="270.9" r="3.6" fill="#08a2da"/>
<text x="249.0" y="273.5" font-size="10.2" text-anchor="start" font-weight="normal" >Insulin aspart, t = 0</text>
<path d="M222.1 287.4H243.6" stroke="#db2719" stroke-width="1.8"/>
<path d="M232.5 283.5L236.4 287.4L232.5 291.3L228.6 287.4Z" fill="#db2719"/>
<text x="249.0" y="290.3" font-size="10.2" text-anchor="start" font-weight="normal" >Soluble human insulin, t = 0</text>
<path d="M222.1 303.4H243.6" stroke="#f49300" stroke-width="1.8"/>
<rect x="229.5" y="300.4" width="6.0" height="6.0" fill="#f49300"/>
<text x="249.0" y="306.3" font-size="10.2" text-anchor="start" font-weight="normal" >Soluble human insulin, t = –30</text>
<text x="223.0" y="331.5" font-size="10.2" text-anchor="start" font-weight="normal" >Median [95% CI] T<tspan font-size="6.3" dy="2.6" style="stroke:none;fill:#333">max</tspan><tspan dy="-2.6"> </tspan>40 [30–40] vs</text>
<text x="223.0" y="343.6" font-size="10.2" text-anchor="start" font-weight="normal" >80 [30–120] min; <tspan font-style='italic'>p</tspan> &lt; 0.002</text>
<text x="223.0" y="368.8" font-size="10.2" text-anchor="start" font-weight="normal" >Mean±SD C<tspan font-size="6.3" dy="2.6" style="stroke:none;fill:#333">max</tspan><tspan dy="-2.6"> </tspan>493±257 vs</text>
<text x="223.0" y="380.8" font-size="10.2" text-anchor="start" font-weight="normal" >239±131 pmol/L; <tspan font-style='italic'>p</tspan> &lt; 0.0001</text>
<text transform="translate(0.3 507.2) scale(0.93 1)" font-size="18" font-weight="bold">(c)</text>
<text transform="translate(20.7 607) rotate(-90)" class="big" font-size="12.2" text-anchor="middle">Serum insulin (pmol/L)</text>
<path d="M58.2 518.2V699H378.8" stroke="#000" stroke-width="1.5" fill="none" stroke-linecap="square"/>
<path d="M53.2 699.0H58.2" stroke="#000" stroke-width="1.5"/>
<text x="49.8" y="702.6" font-size="10.1" text-anchor="end" font-weight="normal" >0</text>
<path d="M53.2 668.87H58.2" stroke="#000" stroke-width="1.5"/>
<text x="49.8" y="672.47" font-size="10.1" text-anchor="end" font-weight="normal" >100</text>
<path d="M53.2 638.74H58.2" stroke="#000" stroke-width="1.5"/>
<text x="49.8" y="642.34" font-size="10.1" text-anchor="end" font-weight="normal" >200</text>
<path d="M53.2 608.61H58.2" stroke="#000" stroke-width="1.5"/>
<text x="49.8" y="612.21" font-size="10.1" text-anchor="end" font-weight="normal" >300</text>
<path d="M53.2 578.48H58.2" stroke="#000" stroke-width="1.5"/>
<text x="49.8" y="582.08" font-size="10.1" text-anchor="end" font-weight="normal" >400</text>
<path d="M53.2 548.35H58.2" stroke="#000" stroke-width="1.5"/>
<text x="49.8" y="551.95" font-size="10.1" text-anchor="end" font-weight="normal" >500</text>
<path d="M53.2 518.22H58.2" stroke="#000" stroke-width="1.5"/>
<text x="49.8" y="521.82" font-size="10.1" text-anchor="end" font-weight="normal" >600</text>
<path d="M71.0 699V703.8" stroke="#000" stroke-width="1.5"/>
<text x="71.0" y="714.3" font-size="10" text-anchor="middle" font-weight="normal" >0</text>
<path d="M109.475 699V703.8" stroke="#000" stroke-width="1.5"/>
<text x="109.475" y="714.3" font-size="10" text-anchor="middle" font-weight="normal" >30</text>
<path d="M147.95 699V703.8" stroke="#000" stroke-width="1.5"/>
<text x="147.95" y="714.3" font-size="10" text-anchor="middle" font-weight="normal" >60</text>
<path d="M186.425 699V703.8" stroke="#000" stroke-width="1.5"/>
<text x="186.425" y="714.3" font-size="10" text-anchor="middle" font-weight="normal" >90</text>
<path d="M224.9 699V703.8" stroke="#000" stroke-width="1.5"/>
<text x="224.9" y="714.3" font-size="10" text-anchor="middle" font-weight="normal" >120</text>
<path d="M263.375 699V703.8" stroke="#000" stroke-width="1.5"/>
<text x="263.375" y="714.3" font-size="10" text-anchor="middle" font-weight="normal" >150</text>
<path d="M301.85 699V703.8" stroke="#000" stroke-width="1.5"/>
<text x="301.85" y="714.3" font-size="10" text-anchor="middle" font-weight="normal" >180</text>
<path d="M340.325 699V703.8" stroke="#000" stroke-width="1.5"/>
<text x="340.325" y="714.3" font-size="10" text-anchor="middle" font-weight="normal" >210</text>
<path d="M378.8 699V703.8" stroke="#000" stroke-width="1.5"/>
<text x="378.8" y="714.3" font-size="10" text-anchor="middle" font-weight="normal" >240</text>
<text x="194.0" y="730.4" font-size="12" text-anchor="start" font-weight="normal" class="big">Time (min)</text>
<text x="68.8" y="513.8" font-size="8" text-anchor="start" font-weight="normal" style="stroke:none;fill:#222">Meal</text>
<rect x="69.3" y="516" width="15.8" height="5.4" fill="#000"/>
<path d="M71.1 633.8V619.1M67.6 619.1H74.6" stroke="#db2719" stroke-width="1.3" fill="none"/>
<path d="M91.7 622.2V607.5M88.2 607.5H95.2" stroke="#db2719" stroke-width="1.3" fill="none"/>
<path d="M107.3 629.1V643.6M103.8 643.6H110.8" stroke="#db2719" stroke-width="1.3" fill="none"/>
<path d="M120.5 624.2V638.5M117.0 638.5H124.0" stroke="#db2719" stroke-width="1.3" fill="none"/>
<path d="M133.5 624.5V638.5M130.0 638.5H137.0" stroke="#db2719" stroke-width="1.3" fill="none"/>
<path d="M146.2 621V633M142.7 633H149.7" stroke="#db2719" stroke-width="1.3" fill="none"/>
<path d="M159.3 621V639.5M155.8 639.5H162.8" stroke="#db2719" stroke-width="1.3" fill="none"/>
<path d="M173 611.1V622.9M169.5 622.9H176.5" stroke="#db2719" stroke-width="1.3" fill="none"/>
<path d="M186.2 612.1V623.5M182.7 623.5H189.7" stroke="#db2719" stroke-width="1.3" fill="none"/>
<path d="M204.8 607.8V619.4M201.3 619.4H208.3" stroke="#db2719" stroke-width="1.3" fill="none"/>
<path d="M223.9 608.4V619.4M220.4 619.4H227.4" stroke="#db2719" stroke-width="1.3" fill="none"/>
<path d="M260.7 608.6V620.7M257.2 620.7H264.2" stroke="#db2719" stroke-width="1.3" fill="none"/>
<path d="M300.9 613.4V625.3M297.4 625.3H304.4" stroke="#db2719" stroke-width="1.3" fill="none"/>
<path d="M337.6 616V603.8M334.1 603.8H341.1" stroke="#db2719" stroke-width="1.3" fill="none"/>
<path d="M378.4 620.5V608M374.9 608H381.9" stroke="#db2719" stroke-width="1.3" fill="none"/>
<path d="M71.1 666.8V687.2M67.6 687.2H74.6" stroke="#08a2da" stroke-width="1.3" fill="none"/>
<path d="M91.7 642.8V661.6M88.2 661.6H95.2" stroke="#08a2da" stroke-width="1.3" fill="none"/>
<path d="M107.3 593.3V583.3M103.8 583.3H110.8" stroke="#08a2da" stroke-width="1.3" fill="none"/>
<path d="M120.4 581.8V567.8M116.9 567.8H123.9" stroke="#08a2da" stroke-width="1.3" fill="none"/>
<path d="M132.7 563.2V545.6M129.2 545.6H136.2" stroke="#08a2da" stroke-width="1.3" fill="none"/>
<path d="M146 563.2V544M142.5 544H149.5" stroke="#08a2da" stroke-width="1.3" fill="none"/>
<path d="M159.3 564.1V544.6M155.8 544.6H162.8" stroke="#08a2da" stroke-width="1.3" fill="none"/>
<path d="M173 573.1V555.5M169.5 555.5H176.5" stroke="#08a2da" stroke-width="1.3" fill="none"/>
<path d="M186.2 571.9V553.3M182.7 553.3H189.7" stroke="#08a2da" stroke-width="1.3" fill="none"/>
<path d="M204.8 582V563.2M201.3 563.2H208.3" stroke="#08a2da" stroke-width="1.3" fill="none"/>
<path d="M223.9 588V571M220.4 571H227.4" stroke="#08a2da" stroke-width="1.3" fill="none"/>
<path d="M260.7 601.9V589.8M257.2 589.8H264.2" stroke="#08a2da" stroke-width="1.3" fill="none"/>
<path d="M300.9 613.9V601.9M297.4 601.9H304.4" stroke="#08a2da" stroke-width="1.3" fill="none"/>
<path d="M337.6 621.9V635.1M334.1 635.1H341.1" stroke="#08a2da" stroke-width="1.3" fill="none"/>
<path d="M378.4 629.8V643.1M374.9 643.1H381.9" stroke="#08a2da" stroke-width="1.3" fill="none"/>
<polyline points="71.1,633.8 91.7,622.2 107.3,629.1 120.5,624.2 133.5,624.5 146.2,621 159.3,621 173,611.1 186.2,612.1 204.8,607.8 223.9,608.4 260.7,608.6 300.9,613.4 337.6,616 378.4,620.5" stroke="#db2719" stroke-width="1.7" fill="none" stroke-linejoin="round"/>
<path d="M71.1 629.8L75.1 633.8L71.1 637.8L67.1 633.8Z" fill="#db2719"/>
<path d="M91.7 618.2L95.7 622.2L91.7 626.2L87.7 622.2Z" fill="#db2719"/>
<path d="M107.3 625.1L111.3 629.1L107.3 633.1L103.3 629.1Z" fill="#db2719"/>
<path d="M120.5 620.2L124.5 624.2L120.5 628.2L116.5 624.2Z" fill="#db2719"/>
<path d="M133.5 620.5L137.5 624.5L133.5 628.5L129.5 624.5Z" fill="#db2719"/>
<path d="M146.2 617.0L150.2 621L146.2 625.0L142.2 621Z" fill="#db2719"/>
<path d="M159.3 617.0L163.3 621L159.3 625.0L155.3 621Z" fill="#db2719"/>
<path d="M173 607.1L177.0 611.1L173 615.1L169.0 611.1Z" fill="#db2719"/>
<path d="M186.2 608.1L190.2 612.1L186.2 616.1L182.2 612.1Z" fill="#db2719"/>
<path d="M204.8 603.8L208.8 607.8L204.8 611.8L200.8 607.8Z" fill="#db2719"/>
<path d="M223.9 604.4L227.9 608.4L223.9 612.4L219.9 608.4Z" fill="#db2719"/>
<path d="M260.7 604.6L264.7 608.6L260.7 612.6L256.7 608.6Z" fill="#db2719"/>
<path d="M300.9 609.4L304.9 613.4L300.9 617.4L296.9 613.4Z" fill="#db2719"/>
<path d="M337.6 612.0L341.6 616L337.6 620.0L333.6 616Z" fill="#db2719"/>
<path d="M378.4 616.5L382.4 620.5L378.4 624.5L374.4 620.5Z" fill="#db2719"/>
<polyline points="71.1,666.8 91.7,642.8 107.3,593.3 120.4,581.8 132.7,563.2 146,563.2 159.3,564.1 173,573.1 186.2,571.9 204.8,582 223.9,588 260.7,601.9 300.9,613.9 337.6,621.9 378.4,629.8" stroke="#08a2da" stroke-width="1.7" fill="none" stroke-linejoin="round"/>
<circle cx="71.1" cy="666.8" r="3.4" fill="#08a2da"/>
<circle cx="91.7" cy="642.8" r="3.4" fill="#08a2da"/>
<circle cx="107.3" cy="593.3" r="3.4" fill="#08a2da"/>
<circle cx="120.4" cy="581.8" r="3.4" fill="#08a2da"/>
<circle cx="132.7" cy="563.2" r="3.4" fill="#08a2da"/>
<circle cx="146" cy="563.2" r="3.4" fill="#08a2da"/>
<circle cx="159.3" cy="564.1" r="3.4" fill="#08a2da"/>
<circle cx="173" cy="573.1" r="3.4" fill="#08a2da"/>
<circle cx="186.2" cy="571.9" r="3.4" fill="#08a2da"/>
<circle cx="204.8" cy="582" r="3.4" fill="#08a2da"/>
<circle cx="223.9" cy="588" r="3.4" fill="#08a2da"/>
<circle cx="260.7" cy="601.9" r="3.4" fill="#08a2da"/>
<circle cx="300.9" cy="613.9" r="3.4" fill="#08a2da"/>
<circle cx="337.6" cy="621.9" r="3.4" fill="#08a2da"/>
<circle cx="378.4" cy="629.8" r="3.4" fill="#08a2da"/>
<path d="M198.5 515.5H219.8" stroke="#08a2da" stroke-width="1.8"/>
<circle cx="208.9" cy="515.5" r="3.6" fill="#08a2da"/>
<text x="225.3" y="518.4" font-size="10.2" text-anchor="start" font-weight="normal" >Insulin aspart before meal</text>
<path d="M198.5 532.4H219.8" stroke="#db2719" stroke-width="1.8"/>
<path d="M208.9 528.5L212.8 532.4L208.9 536.3L205.0 532.4Z" fill="#db2719"/>
<text x="225.3" y="535.0" font-size="10.2" text-anchor="start" font-weight="normal" >Human insulin 30 min before meal</text>
<text x="223.3" y="643.2" font-size="10" text-anchor="start" font-weight="normal" >Median T<tspan font-size="6.3" dy="2.6" style="stroke:none;fill:#333">max</tspan><tspan dy="-2.6"> </tspan>70 vs</text>
<text x="223.3" y="655.3" font-size="10" text-anchor="start" font-weight="normal" >105 min</text>
<text x="223.3" y="679.8" font-size="10" text-anchor="start" font-weight="normal" >Mean±SD C<tspan font-size="6.3" dy="2.6" style="stroke:none;fill:#333">max</tspan><tspan dy="-2.6"> </tspan>507±276 vs</text>
<text x="223.3" y="692" font-size="10" text-anchor="start" font-weight="normal" >394±299 pmol/L</text>
</svg>
</body></html>
